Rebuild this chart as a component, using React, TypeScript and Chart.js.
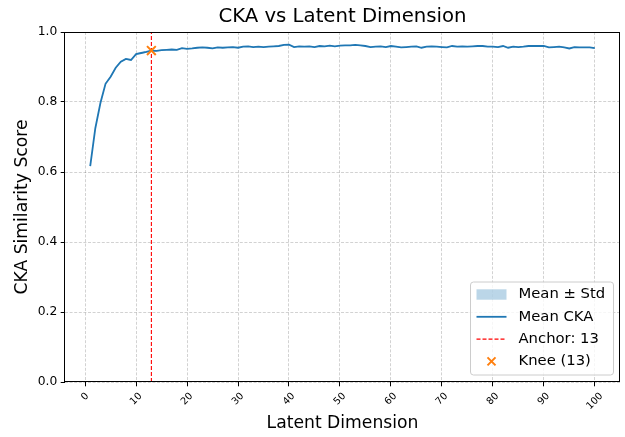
import { useEffect, useRef } from "react";
import { Chart, registerables } from "chart.js";

Chart.register(...registerables);

const FONT = "'DejaVu Sans', 'Liberation Sans', sans-serif";

const meanCka = [
  0.617, 0.725, 0.797, 0.852, 0.872, 0.898, 0.915, 0.923, 0.920, 0.937,
  0.940, 0.943, 0.947, 0.946, 0.948, 0.949, 0.950, 0.949, 0.954, 0.952,
  0.953, 0.955, 0.956, 0.955, 0.953, 0.956, 0.955, 0.956, 0.957, 0.955,
  0.958, 0.959, 0.957, 0.958, 0.957, 0.958, 0.959, 0.960, 0.963, 0.964,
  0.957, 0.959, 0.958, 0.959, 0.957, 0.960, 0.959, 0.961, 0.959, 0.961,
  0.962, 0.962, 0.963, 0.962, 0.960, 0.957, 0.958, 0.959, 0.957, 0.960,
  0.958, 0.956, 0.957, 0.958, 0.959, 0.955, 0.958, 0.959, 0.958, 0.957,
  0.956, 0.960, 0.958, 0.959, 0.958, 0.959, 0.960, 0.960, 0.958, 0.958,
  0.957, 0.960, 0.955, 0.958, 0.957, 0.958, 0.960, 0.960, 0.960, 0.960,
  0.956, 0.957, 0.958, 0.956, 0.953, 0.957, 0.956, 0.956, 0.956, 0.954,
];

const stdCka = [
  0.004, 0.004, 0.003, 0.003, 0.003, 0.002, 0.002, 0.002, 0.002, 0.002,
  0.002, 0.002, 0.002, 0.002, 0.001, 0.001, 0.001, 0.001, 0.001, 0.001,
  0.001, 0.001, 0.001, 0.001, 0.001, 0.001, 0.001, 0.001, 0.001, 0.001,
  0.001, 0.001, 0.001, 0.001, 0.001, 0.001, 0.001, 0.001, 0.001, 0.001,
  0.001, 0.001, 0.001, 0.001, 0.001, 0.001, 0.001, 0.001, 0.001, 0.001,
  0.001, 0.001, 0.001, 0.001, 0.001, 0.001, 0.001, 0.001, 0.001, 0.001,
  0.001, 0.001, 0.001, 0.001, 0.001, 0.001, 0.001, 0.001, 0.001, 0.001,
  0.001, 0.001, 0.001, 0.001, 0.001, 0.001, 0.001, 0.001, 0.001, 0.001,
  0.001, 0.001, 0.001, 0.001, 0.001, 0.001, 0.001, 0.001, 0.001, 0.001,
  0.001, 0.001, 0.001, 0.001, 0.001, 0.001, 0.001, 0.001, 0.001, 0.001,
];

const dims = meanCka.map((_, i) => i + 1);
const anchorDim = 13;
const kneeDim = 13;
const xTicks = [0, 10, 20, 30, 40, 50, 60, 70, 80, 90, 100];
const yTicks = [0, 0.2, 0.4, 0.6, 0.8, 1.0];
const titleText = "CKA vs Latent Dimension";
const legendLabels = ["Mean \u00b1 Std", "Mean CKA", "Anchor: 13", "Knee (13)"];

const BLUE = "#1f77b4";
const BAND = "rgba(31,119,180,0.3)";
const RED = "#ff0000";
const ORANGE = "#ff7f0e";
const GRID = "rgba(0,0,0,0.2)";

const decorPlugin = {
  id: "decor",
  afterDraw(chart: any) {
    const { ctx, chartArea: a, scales } = chart;
    ctx.save();
    // frame
    ctx.strokeStyle = "#000";
    ctx.lineWidth = 1;
    const l = Math.round(a.left) - 0.5;
    const t = Math.round(a.top) + 0.5;
    const r = Math.round(a.right) - 0.5;
    const b = Math.round(a.bottom) - 0.5;
    ctx.strokeRect(l, t, r - l, b - t);

    // title centred over the plot area
    ctx.font = `19.7px ${FONT}`;
    ctx.fillStyle = "#000";
    ctx.textAlign = "center";
    ctx.textBaseline = "middle";
    ctx.fillText(titleText, (a.left + a.right) / 2, 17);

    // rotated x tick labels (centered on tick)
    const fs = 9.8;
    ctx.font = `${fs}px ${FONT}`;
    ctx.textAlign = "center";
    ctx.textBaseline = "middle";
    const topY = a.bottom + 8.6;
    xTicks.forEach((v) => {
      const label = String(v);
      const x = scales.x.getPixelForValue(v);
      const L = ctx.measureText(label).width;
      const H = fs * 1.17;
      const boxH = (L + H) / Math.SQRT2;
      ctx.save();
      ctx.translate(x, topY + boxH / 2);
      ctx.rotate(-Math.PI / 4);
      ctx.fillText(label, 0, 0);
      ctx.restore();
    });

    // legend
    const lfs = 14.8;
    const w = 143;
    const h = 93;
    const lx = a.right - 6.5 - w;
    const ly = a.bottom - 7 - h;
    ctx.beginPath();
    const rad = 3;
    ctx.moveTo(lx + rad, ly);
    ctx.lineTo(lx + w - rad, ly);
    ctx.quadraticCurveTo(lx + w, ly, lx + w, ly + rad);
    ctx.lineTo(lx + w, ly + h - rad);
    ctx.quadraticCurveTo(lx + w, ly + h, lx + w - rad, ly + h);
    ctx.lineTo(lx + rad, ly + h);
    ctx.quadraticCurveTo(lx, ly + h, lx, ly + h - rad);
    ctx.lineTo(lx, ly + rad);
    ctx.quadraticCurveTo(lx, ly, lx + rad, ly);
    ctx.closePath();
    ctx.fillStyle = "rgba(255,255,255,0.8)";
    ctx.fill();
    ctx.strokeStyle = "#cccccc";
    ctx.lineWidth = 1;
    ctx.stroke();

    const hx0 = lx + 6;
    const hx1 = hx0 + 30;
    const tx = hx1 + 12;
    const rowY0 = ly + 12.5;
    const rowStep = 22.3;
    ctx.font = `${lfs}px ${FONT}`;
    ctx.textAlign = "left";
    ctx.textBaseline = "middle";
    legendLabels.forEach((label, i) => {
      const y = rowY0 + i * rowStep;
      ctx.save();
      if (i === 0) {
        ctx.fillStyle = BAND;
        ctx.fillRect(hx0, y - 5.2, hx1 - hx0, 10.4);
      } else if (i === 1) {
        ctx.strokeStyle = BLUE;
        ctx.lineWidth = 1.8;
        ctx.beginPath();
        ctx.moveTo(hx0, y);
        ctx.lineTo(hx1, y);
        ctx.stroke();
      } else if (i === 2) {
        ctx.strokeStyle = RED;
        ctx.lineWidth = 1.1;
        ctx.setLineDash([4, 2]);
        ctx.beginPath();
        ctx.moveTo(hx0, y);
        ctx.lineTo(hx1, y);
        ctx.stroke();
      } else {
        const cx = (hx0 + hx1) / 2;
        ctx.strokeStyle = ORANGE;
        ctx.lineWidth = 2;
        ctx.beginPath();
        ctx.moveTo(cx - 4, y - 4);
        ctx.lineTo(cx + 4, y + 4);
        ctx.moveTo(cx - 4, y + 4);
        ctx.lineTo(cx + 4, y - 4);
        ctx.stroke();
      }
      ctx.restore();
      ctx.fillStyle = "#000";
      ctx.fillText(label, tx, y);
    });
    ctx.restore();
  },
};

export default function App() {
  const ref = useRef<HTMLCanvasElement | null>(null);

  useEffect(() => {
    document.body.style.margin = "0";
    const canvas = ref.current;
    if (!canvas) return;
    const upper = dims.map((d, i) => ({ x: d, y: meanCka[i] + stdCka[i] }));
    const lower = dims.map((d, i) => ({ x: d, y: meanCka[i] - stdCka[i] }));
    const mean = dims.map((d, i) => ({ x: d, y: meanCka[i] }));
    const kneeIdx = dims.indexOf(kneeDim);

    const chart = new Chart(canvas, {
      type: "line",
      data: {
        datasets: [
          {
            label: "upper",
            data: upper,
            borderWidth: 0,
            pointRadius: 0,
            fill: false,
            order: 4,
          },
          {
            label: legendLabels[0],
            data: lower,
            borderWidth: 0,
            pointRadius: 0,
            backgroundColor: BAND,
            fill: "-1",
            order: 3,
          },
          {
            label: legendLabels[1],
            data: mean,
            borderColor: BLUE,
            borderWidth: 1.8,
            pointRadius: 0,
            fill: false,
            tension: 0,
            order: 2,
          },
          {
            label: legendLabels[2],
            data: [
              { x: anchorDim, y: 0 },
              { x: anchorDim, y: 1 },
            ],
            borderColor: RED,
            borderWidth: 1.1,
            borderDash: [4, 2],
            pointRadius: 0,
            fill: false,
            order: 1,
          },
          {
            label: legendLabels[3],
            data: [{ x: kneeDim, y: meanCka[kneeIdx] }],
            showLine: false,
            pointStyle: "crossRot",
            pointRadius: 6.2,
            pointBorderWidth: 2,
            pointBorderColor: ORANGE,
            pointBackgroundColor: ORANGE,
            borderColor: ORANGE,
            order: 0,
          },
        ],
      } as any,
      options: {
        responsive: false,
        animation: false,
        devicePixelRatio: 1,
        layout: { autoPadding: false, padding: { left: 0, right: 5, top: 32, bottom: 0 } },
        plugins: {
          legend: { display: false },
          tooltip: { enabled: false },
          title: { display: false },
        },
        scales: {
          x: {
            type: "linear",
            min: -3.95,
            max: 104.95,
            afterBuildTicks: (scale: any) => {
              scale.ticks = xTicks.map((v) => ({ value: v }));
            },
            afterFit: (scale: any) => {
              scale.height = 55;
            },
            ticks: { display: false },
            grid: {
              color: GRID,
              lineWidth: 0.9,
              drawTicks: true,
              tickLength: 4.3,
              tickColor: "#000",
              tickWidth: 1,
              tickBorderDash: [],
            },
            border: { display: false, dash: [3, 1.6] },
            title: {
              display: true,
              text: "Latent Dimension",
              color: "#000",
              font: { family: FONT, size: 17.2, weight: "normal" },
              padding: { top: 0, bottom: 2.7 },
            },
          },
          y: {
            type: "linear",
            min: 0,
            max: 1,
            afterBuildTicks: (scale: any) => {
              scale.ticks = yTicks.map((v) => ({ value: v }));
            },
            afterFit: (scale: any) => {
              scale.width = 65;
            },
            ticks: {
              color: "#000",
              font: { family: FONT, size: 12.3 },
              padding: 3.5,
              callback: (v: any) => Number(v).toFixed(1),
            },
            grid: {
              color: GRID,
              lineWidth: 0.9,
              drawTicks: true,
              tickLength: 4.3,
              tickColor: "#000",
              tickWidth: 1,
              tickBorderDash: [],
            },
            border: { display: false, dash: [3, 1.6] },
            title: {
              display: true,
              text: "CKA Similarity Score",
              color: "#000",
              font: { family: FONT, size: 17.2, weight: "normal" },
              padding: { top: 12.7, bottom: 0 },
            },
          },
        },
      } as any,
      plugins: [decorPlugin],
    });

    return () => chart.destroy();
  }, []);

  return (
    <div style={{ width: 625, height: 437 }}>
      <canvas ref={ref} width={625} height={437} style={{ display: "block" }} />
    </div>
  );
}
